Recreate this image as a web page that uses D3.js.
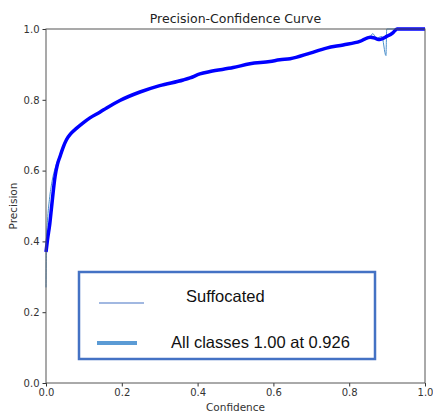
<!DOCTYPE html>
<html lang="en">
<head>
    <meta charset="UTF-8">
    <title>Precision-Confidence Curve</title>
    <script src="https://d3js.org/d3.v7.min.js"></script>
    <style>
        body { margin: 0; background: #fff; }
        .tick text { font-family: "DejaVu Sans", sans-serif; font-size: 10px; fill: #333; }
        .tick line { stroke: #333; }
    </style>
</head>
<body>
    <svg width="433" height="417"></svg>
    <script>
        // Tick values
        const xTicks = [0, 0.2, 0.4, 0.6, 0.8, 1.0];
        const yTicks = [0, 0.2, 0.4, 0.6, 0.8, 1.0];

        // All classes (thick line)
        const allConf = [0, 0.004, 0.01, 0.015, 0.024, 0.03, 0.037, 0.045, 0.054, 0.066, 0.081, 0.098, 0.116, 0.142, 0.16, 0.195,
            0.248, 0.30, 0.362, 0.38, 0.406, 0.433, 0.494, 0.538, 0.591, 0.617, 0.644, 0.697, 0.74,
            0.784, 0.828, 0.855, 0.868, 0.877, 0.899, 0.916, 0.926, 1.0];
        const allPrec = [0.37, 0.405, 0.45, 0.50, 0.584, 0.617, 0.64, 0.665, 0.687, 0.705, 0.72, 0.735, 0.749, 0.765, 0.777, 0.798,
            0.822, 0.84, 0.856, 0.862, 0.873, 0.88, 0.891, 0.902, 0.908, 0.913, 0.916, 0.932, 0.946,
            0.955, 0.965, 0.977, 0.974, 0.97, 0.979, 0.99, 1.0, 1.0];

        // Suffocated (thin line)
        const sufConf = [0, 0.001, 0.004, 0.009, 0.016, 0.025, 0.037, 0.045, 0.054, 0.066, 0.081, 0.098, 0.116, 0.142, 0.16, 0.195,
            0.248, 0.30, 0.362, 0.38, 0.406, 0.433, 0.494, 0.538, 0.591, 0.617, 0.644, 0.697, 0.74,
            0.784, 0.828, 0.855, 0.862, 0.872, 0.886, 0.897, 0.899, 1.0];
        const sufPrec = [0.27, 0.40, 0.46, 0.518, 0.57, 0.61, 0.645, 0.667, 0.687, 0.705, 0.72, 0.735, 0.749, 0.765, 0.777, 0.798,
            0.822, 0.84, 0.856, 0.862, 0.873, 0.88, 0.891, 0.902, 0.908, 0.913, 0.916, 0.932, 0.946,
            0.955, 0.965, 0.977, 0.987, 0.974, 0.979, 0.925, 1.0, 1.0];

        const legendLabels = ["Suffocated", "All classes 1.00 at 0.926"];

        const margin = { top: 29, right: 8, bottom: 34, left: 46 };
        const width = 433 - margin.left - margin.right;
        const height = 417 - margin.top - margin.bottom;

        const svg = d3.select("svg")
            .append("g")
            .attr("transform", `translate(${margin.left},${margin.top})`);

        const x = d3.scaleLinear().domain([0, 1]).range([0, width]);
        const y = d3.scaleLinear().domain([0, 1]).range([height, 0]);

        // Axes
        svg.append("g")
            .attr("transform", `translate(0,${height})`)
            .call(d3.axisBottom(x).tickValues(xTicks).tickFormat(d3.format(".1f")).tickSize(3.5).tickPadding(2))
            .call(g => g.select(".domain").remove());

        svg.append("g")
            .call(d3.axisLeft(y).tickValues(yTicks).tickFormat(d3.format(".1f")).tickSize(3.5).tickPadding(3))
            .call(g => g.select(".domain").remove());

        // Curves
        const line = d3.line()
            .x(d => x(d[0]))
            .y(d => y(d[1]))
            .curve(d3.curveMonotoneX);

        const sufData = d3.zip(sufConf, sufPrec);
        const allData = d3.zip(allConf, allPrec);

        svg.append("path")
            .datum(sufData)
            .attr("fill", "none")
            .attr("stroke", "#4a8fcc")
            .attr("stroke-width", 1)
            .attr("d", line);

        svg.append("path")
            .datum(allData)
            .attr("fill", "none")
            .attr("stroke", "#0000ff")
            .attr("stroke-width", 3.5)
            .attr("stroke-linejoin", "round")
            .attr("d", line);

        // Frame
        svg.append("rect")
            .attr("width", width)
            .attr("height", height)
            .attr("fill", "none")
            .attr("stroke", "#555")
            .attr("stroke-width", 1);

        // Title and axis labels
        svg.append("text")
            .attr("x", width / 2)
            .attr("y", -6)
            .attr("text-anchor", "middle")
            .style("font-family", "DejaVu Sans, sans-serif")
            .style("font-size", "12.5px")
            .attr("fill", "#222")
            .text("Precision-Confidence Curve");

        svg.append("text")
            .attr("x", width / 2)
            .attr("y", height + 28)
            .attr("text-anchor", "middle")
            .style("font-family", "DejaVu Sans, sans-serif")
            .style("font-size", "10.5px")
            .attr("fill", "#333")
            .text("Confidence");

        svg.append("text")
            .attr("transform", "rotate(-90)")
            .attr("x", -height / 2)
            .attr("y", -29)
            .attr("text-anchor", "middle")
            .style("font-family", "DejaVu Sans, sans-serif")
            .style("font-size", "10.5px")
            .attr("fill", "#333")
            .text("Precision");

        // Legend
        const legend = svg.append("g").attr("transform", `translate(${79 - margin.left},${272 - margin.top})`);
        legend.append("rect")
            .attr("width", 296)
            .attr("height", 87)
            .attr("fill", "#fff")
            .attr("stroke", "#4472c4")
            .attr("stroke-width", 2.5);

        legend.append("line")
            .attr("x1", 20).attr("x2", 65)
            .attr("y1", 31).attr("y2", 31)
            .attr("stroke", "#4472c4").attr("stroke-width", 1.2);
        legend.append("text")
            .attr("x", 107).attr("y", 30)
            .style("font-family", "Liberation Sans, sans-serif")
            .style("font-size", "16.5px")
            .attr("fill", "#111")
            .text(legendLabels[0]);

        legend.append("line")
            .attr("x1", 18).attr("x2", 58)
            .attr("y1", 71).attr("y2", 71)
            .attr("stroke", "#5b9bd5").attr("stroke-width", 4);
        legend.append("text")
            .attr("x", 92).attr("y", 76)
            .style("font-family", "Liberation Sans, sans-serif")
            .style("font-size", "16.5px")
            .attr("fill", "#111")
            .text(legendLabels[1]);
    </script>
</body>
</html>
